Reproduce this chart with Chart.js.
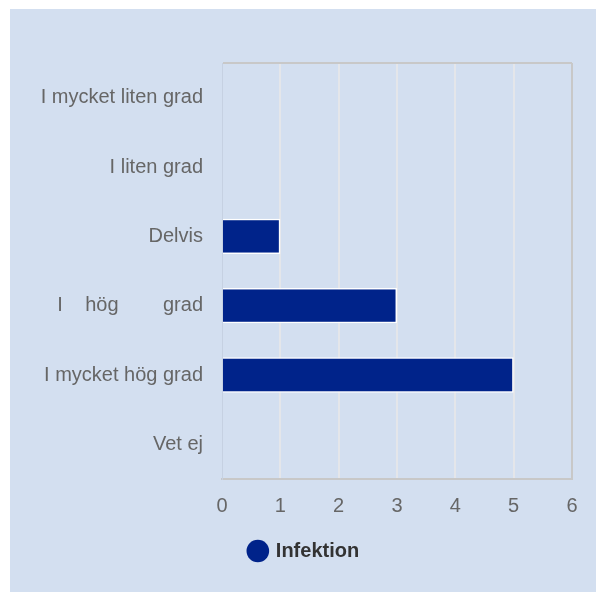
<!DOCTYPE html>
<html>
<head>
<meta charset="utf-8">
<script src="https://cdn.jsdelivr.net/npm/chart.js@4"></script>
<style>
  html, body { margin: 0; padding: 0; background: #fff; }
  #panel { position: absolute; left: 10px; top: 9px; width: 586px; height: 583px; background: #d3dff0; }
</style>
</head>
<body>
<div id="panel"><canvas id="chart" width="586" height="583"></canvas></div>
<script>
// Survey answers, one bar per answer
const categories = ['I mycket liten grad', 'I liten grad', 'Delvis', 'I    hög        grad', 'I mycket hög grad', 'Vet ej'];
const seriesName = 'Infektion';
const seriesValues = [0, 0, 1, 3, 5, 0];
const xTicks = [0, 1, 2, 3, 4, 5, 6];

const FONT = '"Liberation Sans", Arial, sans-serif';
const xMax = xTicks[xTicks.length - 1];

const ctx = document.getElementById('chart').getContext('2d');
new Chart(ctx, {
  type: 'bar',
  data: {
    labels: categories,
    datasets: [{
      label: seriesName,
      data: seriesValues,
      backgroundColor: '#00238a',
      borderColor: '#ffffff',
      borderWidth: 1.5,
      barPercentage: 0.51,
      categoryPercentage: 1
    }]
  },
  options: {
    indexAxis: 'y',
    responsive: false,
    animation: false,
    layout: {
      padding: { top: 54, right: 24, bottom: 21, left: 27 }
    },
    scales: {
      x: {
        min: xTicks[0],
        max: xMax,
        afterBuildTicks: scale => {
          scale.ticks = xTicks.map(v => ({ value: v }));
        },
        afterFit: scale => { scale.height = 52; },
        ticks: {
          padding: 15,
          color: '#666666',
          font: { family: FONT, size: 20 }
        },
        grid: {
          drawTicks: false,
          lineWidth: 2,
          color: c => {
            if (c.index === 0) return 'rgba(0,0,0,0)';
            if (c.tick && c.tick.value === xMax) return '#c8c8c8';
            return '#e4e6ea';
          }
        },
        border: { color: '#c8c8c8', width: 2 }
      },
      y: {
        afterFit: scale => { scale.width = 185; },
        ticks: {
          padding: 19,
          color: '#666666',
          font: { family: FONT, size: 20 }
        },
        grid: {
          drawTicks: false,
          lineWidth: 2,
          color: c => c.index === 0 ? '#c8c8c8' : 'rgba(0,0,0,0)'
        },
        border: { color: '#c6d1e2', width: 1 }
      }
    },
    plugins: {
      tooltip: { enabled: false },
      legend: {
        position: 'bottom',
        labels: {
          usePointStyle: true,
          pointStyle: 'circle',
          boxWidth: 16,
          boxHeight: 16,
          color: '#333333',
          font: { family: FONT, size: 20, weight: 'bold' },
          generateLabels: chart => {
            const items = Chart.defaults.plugins.legend.labels.generateLabels(chart);
            items.forEach(it => { it.lineWidth = 0; it.strokeStyle = 'rgba(0,0,0,0)'; });
            return items;
          }
        }
      }
    }
  }
});
</script>
</body>
</html>
